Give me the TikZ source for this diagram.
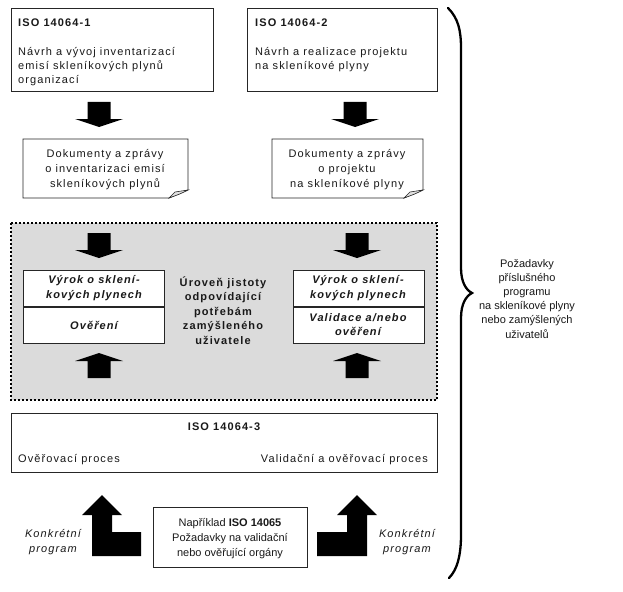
\documentclass[tikz,border=0pt]{standalone}
\usepackage{fontspec}
\setmainfont[LetterSpace=10]{Liberation Sans}
\newfontfamily\plainsans{Liberation Sans}
\begin{document}
\begin{tikzpicture}[x=1pt,y=-1pt,
  box/.style={draw=black!85, line width=0.8pt, fill=white, inner sep=0pt, outer sep=0pt, anchor=north west},
  txt/.style={inner sep=0pt, font=\fontsize{11}{14}\selectfont, text=black!90},
  ltxt/.style={txt, align=left, anchor=base west},
  ctxt/.style={txt, align=center, anchor=base},
  bitxt/.style={ctxt, font=\fontsize{11}{15}\selectfont\bfseries\itshape},
  itxt/.style={ctxt, font=\fontsize{11}{15}\selectfont\itshape},
  dotted region/.style={fill=black!14, draw=black, line width=2.2pt, dash pattern=on 2.2pt off 1.8pt},
  docbox/.style={draw=black!85, line width=0.8pt, fill=white},
  fold/.style={draw=black!85, line width=0.6pt, fill=black!12},
  brace line/.style={draw=black, line width=2.3pt, line cap=round},
  downarr/.pic={\fill[black] (-11.5,0) -- (11.5,0) -- (11.5,17) -- (24,17) -- (0,25) -- (-24,17) -- (-11.5,17) -- cycle;},
  uparr/.pic={\fill[black] (-11.5,25) -- (11.5,25) -- (11.5,8) -- (24,8) -- (0,0) -- (-24,8) -- (-11.5,8) -- cycle;}
]
\useasboundingbox (0,0) rectangle (623,591);
\fill[white] (0,0) rectangle (623,591);

% top boxes
\node[box, minimum width=202pt, minimum height=83pt] (b1) at (11,8) {};
\node[ltxt, font=\fontsize{11}{14}\selectfont\bfseries] (b1t) at (18,27) {ISO 14064-1};
\node[ltxt] (b1x) at (18,84) {Návrh a vývoj inventarizací\\emisí skleníkových plynů\\organizací};

\node[box, minimum width=190pt, minimum height=83pt] (b2) at (247,8) {};
\node[ltxt, font=\fontsize{11}{14}\selectfont\bfseries] (b2t) at (255,27) {ISO 14064-2};
\node[ltxt] (b2x) at (255,70) {Návrh a realizace projektu\\na skleníkové plyny};

% top arrows
\pic at (99,102) {downarr};
\pic at (355,102) {downarr};

% document boxes
\path[docbox] (23,139) -- (188,139) -- (188,190) -- (169,198) -- (23,198) -- cycle;
\path[fold] (169,198) -- (175,192) -- (188,190) .. controls (180,194) .. (169,198) -- cycle;
\node[ctxt, font=\fontsize{11}{15}\selectfont] (d1) at (105,187) {Dokumenty a zprávy\\o inventarizaci emisí\\skleníkových plynů};

\path[docbox] (272,139) -- (423,139) -- (423,190) -- (404,198) -- (272,198) -- cycle;
\path[fold] (404,198) -- (410,192) -- (423,190) .. controls (415,194) .. (404,198) -- cycle;
\node[ctxt, font=\fontsize{11}{15}\selectfont] (d2) at (347,187) {Dokumenty a zprávy\\o projektu\\na skleníkové plyny};

% dotted grey region
\path[dotted region] (11,223) rectangle (437,400);
\pic at (99,233) {downarr};
\pic at (357,233) {downarr};
\pic at (99,353) {uparr};
\pic at (357,353) {uparr};

\node[box, minimum width=141pt, minimum height=36pt] (l1) at (23,270) {};
\node[box, minimum width=141pt, minimum height=36pt] (l2) at (23,307) {};
\node[bitxt] (l1t) at (94,298) {Výrok o sklení-\\kových plynech};
\node[bitxt] (l2t) at (94,329) {Ověření};

\node[box, minimum width=131pt, minimum height=36pt] (r1) at (293,270) {};
\node[box, minimum width=131pt, minimum height=36pt] (r2) at (293,307) {};
\node[bitxt] (r1t) at (358,298) {Výrok o sklení-\\kových plynech};
\node[bitxt, font=\fontsize{11}{14}\selectfont\bfseries\itshape] (r2t) at (358,335) {Validace a/nebo\\ověření};

\node[ctxt, font=\fontsize{11}{14.5}\selectfont\bfseries] (ct) at (223,344) {Úroveň jistoty\\odpovídající\\potřebám\\zamýšleného\\uživatele};

% ISO 14064-3
\node[box, minimum width=426pt, minimum height=59pt] (b3) at (11,413) {};
\node[ctxt, font=\fontsize{11}{14}\selectfont\bfseries] (b3t) at (224,430) {ISO 14064-3};
\node[ltxt] (b3l) at (18,462) {Ověřovací proces};
\node[txt, anchor=base east] (b3r) at (428,462) {Validační a ověřovací proces};

% bottom
\fill[black] (102,495) -- (122,515) -- (112,515) -- (112,532) -- (141,532) -- (141,556) -- (92,556) -- (92,515) -- (82,515) -- cycle;
\fill[black] (357,495) -- (377,515) -- (367,515) -- (367,556) -- (317,556) -- (317,532) -- (347,532) -- (347,515) -- (337,515) -- cycle;

\node[box, minimum width=154pt, minimum height=60pt] (b4) at (153,507) {};
\node[ctxt, font=\plainsans\fontsize{11}{15}\selectfont] (b4t) at (230,556) {Například \textbf{ISO 14065}\\Požadavky na validační\\nebo ověřující orgány};

\node[itxt] (kl) at (53,552) {Konkrétní\\program};
\node[itxt] (kr) at (407,552) {Konkrétní\\program};

% brace
\path[brace line] (448,8) .. controls (458,18) and (461,30) .. (461,48)
  -- (461,268) .. controls (461,282) and (466,290) .. (472,293)
  .. controls (466,296) and (461,304) .. (461,318)
  -- (461,535) .. controls (461,556) and (457,570) .. (449,578);

\node[ctxt, font=\plainsans\fontsize{11}{14.2}\selectfont] (rt) at (527,338) {Požadavky\\příslušného\\programu\\na skleníkové plyny\\nebo zamýšlených\\uživatelů};
\end{tikzpicture}
\end{document}
